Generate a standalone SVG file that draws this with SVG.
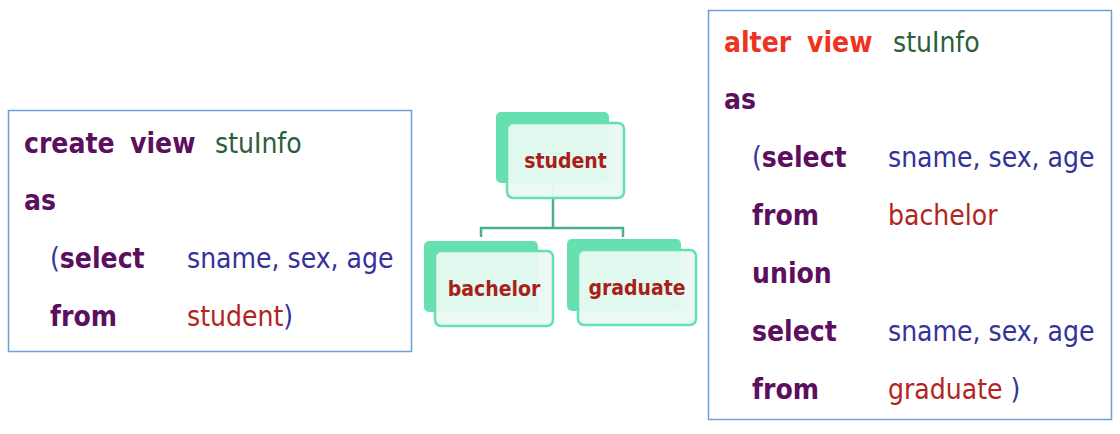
<svg xmlns="http://www.w3.org/2000/svg" width="1120" height="434" viewBox="0 0 1120 434">
<style>
text{font-family:"DejaVu Sans Condensed","DejaVu Sans",Verdana,sans-serif;font-stretch:condensed;font-size:28px}
.kw{fill:#5c0f5e;font-weight:bold}
.alt{fill:#ee3322;font-weight:bold}
.nm{fill:#2c5e3c}
.col{fill:#33339a}
.tb{fill:#b0261e}
.box{fill:#fff;stroke:#6d9fd8;stroke-width:1.5}
.back{fill:#66e0ae}
.front{fill:#e9f9f3;fill-opacity:0.94;stroke:#66e0ae;stroke-width:2.5}
.lbl{fill:#a8201a;font-weight:bold;font-size:21px;text-anchor:middle}
.conn{fill:none;stroke:#4caf88;stroke-width:2.5}
</style>
<rect width="1120" height="434" fill="#fff"/>
<g id="createBox">
<rect class="box" x="8.5" y="110.5" width="403" height="241"/>
<text x="24" y="153"><tspan class="kw">create</tspan><tspan class="kw" x="130">view</tspan><tspan class="nm" x="215">stuInfo</tspan></text>
<text x="24" y="210" class="kw">as</text>
<text x="50" y="268"><tspan class="col">(</tspan><tspan class="kw">select</tspan><tspan class="col" x="187">sname, sex, age</tspan></text>
<text x="50" y="326"><tspan class="kw">from</tspan><tspan class="tb" x="187">student</tspan><tspan class="col">)</tspan></text>
</g>
<g id="alterBox">
<rect class="box" x="708.5" y="10.5" width="403" height="409"/>
<text x="724" y="52"><tspan class="alt">alter</tspan><tspan class="alt" x="807">view</tspan><tspan class="nm" x="893">stuInfo</tspan></text>
<text x="724" y="109" class="kw">as</text>
<text x="752" y="167"><tspan class="col">(</tspan><tspan class="kw">select</tspan><tspan class="col" x="888">sname, sex, age</tspan></text>
<text x="752" y="225"><tspan class="kw">from</tspan><tspan class="tb" x="888">bachelor</tspan></text>
<text x="752" y="283" class="kw">union</text>
<text x="752" y="341"><tspan class="kw">select</tspan><tspan class="col" x="888">sname, sex, age</tspan></text>
<text x="752" y="399"><tspan class="kw">from</tspan><tspan class="tb" x="888">graduate</tspan><tspan class="col"> )</tspan></text>
</g>
<g id="connectors">
<path class="conn" d="M553 186V228M481 237V228H623V237"/>
</g>
<g id="student">
<rect class="back" x="496" y="112" width="113" height="71" rx="5"/>
<rect class="front" x="507" y="123" width="117" height="75" rx="6"/>
<text class="lbl" x="565.5" y="168">student</text>
</g>
<g id="bachelor">
<rect class="back" x="424" y="241" width="114" height="71" rx="5"/>
<rect class="front" x="435" y="251" width="118" height="75" rx="6"/>
<text class="lbl" x="494" y="296">bachelor</text>
</g>
<g id="graduate">
<rect class="back" x="567" y="239" width="114" height="72" rx="5"/>
<rect class="front" x="578" y="250" width="118" height="75" rx="6"/>
<text class="lbl" x="637" y="295">graduate</text>
</g>
</svg>
